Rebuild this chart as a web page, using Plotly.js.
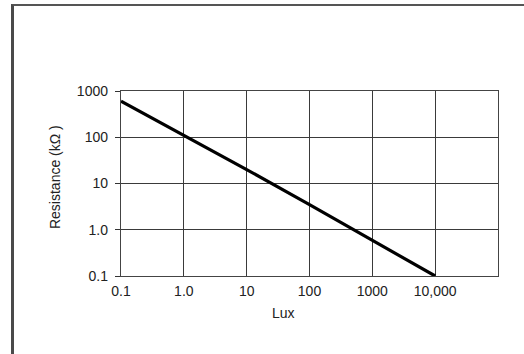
<!DOCTYPE html>
<html>
<head>
<meta charset="utf-8">
<script src="https://cdn.plot.ly/plotly-3.0.1.min.js"></script>
<style>
html,body{margin:0;padding:0;background:#fff;}
#wrap{position:relative;width:524px;height:354px;overflow:hidden;}
#chart{position:absolute;left:0;top:0;width:524px;height:354px;}
#frame{position:absolute;left:11px;top:4px;width:520px;height:348px;border-left:3px solid #4a4a4a;border-top:2px solid #555;border-bottom:1px solid #d8d8d8;pointer-events:none;}
</style>
</head>
<body>
<div id="wrap">
<div id="chart"></div>
<div id="frame"></div>
</div>
<script>
// Data (log-log)
const lux = [0.1, 1, 10, 100, 1000, 10000];
const resistance = [600, 110, 20, 3.5, 0.6, 0.1];

const xTickVals = [0.1, 1, 10, 100, 1000, 10000];
const xTickText = ["0.1", "1.0", "10", "100", "1000", "10,000"];
const yTickVals = [0.1, 1, 10, 100, 1000];
const yTickText = ["0.1", "1.0", "10", "100", "1000"];

const xTitle = "Lux";
const yTitle = "Resistance (k\u03A9 )";

const fontFam = "'Liberation Sans', Arial, Helvetica, sans-serif";
const txt = "#222";
const fs = 14;

const trace = {
  x: lux, y: resistance, type: "scatter", mode: "lines",
  line: {color: "#000", width: 3.2}, hoverinfo: "skip", showlegend: false
};

const layout = {
  width: 524, height: 354,
  margin: {l: 121, r: 26, t: 91, b: 78, pad: 0},
  paper_bgcolor: "#fff", plot_bgcolor: "#fff",
  font: {family: fontFam, size: fs, color: txt},
  xaxis: {
    type: "log", range: [-1, 5],
    tickvals: xTickVals, ticktext: xTickText,
    showgrid: true, gridcolor: "#3a3a3a", gridwidth: 1,
    showline: true, linecolor: "#444", linewidth: 1.2, mirror: true,
    ticks: "", ticklabelstandoff: 2, zeroline: false,
    tickfont: {family: fontFam, size: fs, color: txt}
  },
  yaxis: {
    type: "log", range: [-1, 3],
    tickvals: yTickVals, ticktext: yTickText,
    showgrid: true, gridcolor: "#3a3a3a", gridwidth: 1,
    showline: true, linecolor: "#444", linewidth: 1.2, mirror: true,
    ticks: "outside", ticklen: 5, tickcolor: "#333", tickwidth: 1,
    ticklabelstandoff: 4, zeroline: false,
    tickfont: {family: fontFam, size: fs, color: txt}
  },
  annotations: [
    {text: xTitle, xref: "paper", yref: "paper", x: 0.430, y: -0.2,
     xanchor: "center", yanchor: "middle", showarrow: false,
     font: {family: fontFam, size: fs, color: txt}},
    {text: yTitle, xref: "paper", yref: "paper", x: -0.175, y: 0.535,
     xanchor: "center", yanchor: "middle", showarrow: false, textangle: -90,
     font: {family: fontFam, size: fs, color: txt}}
  ]
};

Plotly.newPlot("chart", [trace], layout, {displayModeBar: false, staticPlot: true});
</script>
</body>
</html>
